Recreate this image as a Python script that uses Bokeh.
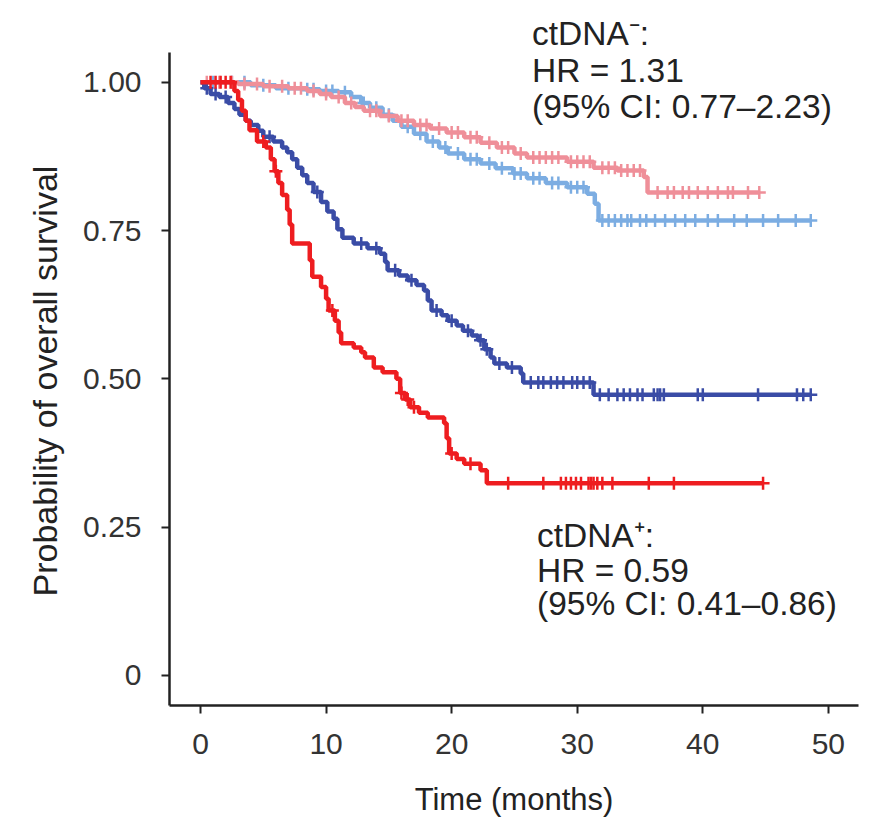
import numpy as np
from bokeh.plotting import figure
from bokeh.models import Range1d, FixedTicker, Label, Title
from bokeh.embed import file_html
from bokeh.resources import INLINE

# ---------------- data ----------------
# ctDNA- group, arm 1 (pink)
pink_times = [3.0, 5.0, 7.0, 8.5, 9.5, 10.4, 11.5, 12.3, 13.0, 14.3, 15.7, 17.0, 18.3,
              19.6, 21.0, 22.3, 23.6, 25.0, 26.0, 29.2, 31.3, 33.2, 35.3, 35.6]
pink_surv = [0.997, 0.993, 0.99, 0.985, 0.98, 0.975, 0.965, 0.958, 0.952, 0.943, 0.935,
             0.928, 0.922, 0.915, 0.907, 0.898, 0.89, 0.88, 0.873, 0.866, 0.856, 0.851,
             0.84, 0.814]
pink_censor = [0.5, 1.5, 2.5, 3.5, 4.5, 5.5, 6.5, 7.5, 8.0, 9.0, 10.0, 11.0, 12.0, 13.5,
               14.0, 15.0, 16.0, 16.5, 17.5, 18.0, 19.0, 20.0, 20.5, 21.5, 22.0, 23.0,
               24.0, 24.5, 25.5, 26.5, 27.0, 27.5, 28.0, 28.5, 29.5, 30.0, 30.5, 31.0,
               32.0, 32.5, 33.0, 33.5, 34.0, 34.5, 35.0, 36.4, 37.2, 37.7, 38.4, 38.9,
               39.6, 40.4, 41.2, 42.0, 42.4, 43.6, 44.5]

# ctDNA- group, arm 2 (light blue)
lblue_times = [4.0, 6.0, 8.0, 9.5, 11.0, 12.0, 12.8, 13.5, 14.5, 15.3, 16.0, 17.0, 18.0,
               19.0, 19.7, 21.0, 22.3, 23.5, 24.9, 26.0, 27.5, 29.2, 30.8, 31.4, 31.7]
lblue_surv = [0.995, 0.99, 0.988, 0.985, 0.983, 0.975, 0.965, 0.957, 0.945, 0.935, 0.925,
              0.913, 0.90, 0.89, 0.88, 0.87, 0.863, 0.855, 0.846, 0.838, 0.83, 0.823,
              0.812, 0.795, 0.767]
lblue_censor = [1.0, 2.5, 3.5, 5.0, 7.0, 8.5, 9.0, 10.0, 10.5, 11.5, 13.0, 14.0, 15.0,
                16.5, 17.5, 18.5, 19.5, 20.5, 21.5, 22.0, 23.0, 24.0, 25.0, 25.5, 26.5,
                27.0, 28.0, 28.5, 29.5, 30.0, 30.5, 32.0, 32.5, 33.0, 33.5, 34.0, 34.3,
                35.0, 35.5, 36.2, 37.0, 37.8, 38.6, 39.4, 40.4, 41.2, 42.5, 43.5, 44.8,
                46.0, 47.4, 48.6]

# ctDNA+ group, arm 1 (dark blue)
dblue_times = [0.3, 0.8, 1.5, 2.2, 2.7, 3.1, 3.6, 4.0, 4.6, 5.0, 5.8, 6.5, 6.9, 7.3, 7.7,
               8.1, 8.5, 9.0, 9.6, 10.1, 10.6, 10.9, 11.3, 12.2, 13.3, 14.3, 14.7, 14.9,
               15.8, 16.5, 17.2, 17.8, 18.1, 18.4, 19.2, 19.7, 20.4, 20.9, 21.6, 22.1,
               22.6, 23.1, 23.4, 24.4, 25.5, 25.7, 31.3]
dblue_surv = [0.99, 0.98, 0.975, 0.965, 0.955, 0.945, 0.935, 0.928, 0.918, 0.908, 0.90,
              0.89, 0.882, 0.87, 0.856, 0.843, 0.83, 0.815, 0.798, 0.782, 0.77, 0.752,
              0.738, 0.728, 0.72, 0.711, 0.697, 0.683, 0.674, 0.666, 0.658, 0.649, 0.632,
              0.615, 0.607, 0.598, 0.59, 0.581, 0.573, 0.565, 0.55, 0.536, 0.526, 0.519,
              0.509, 0.494, 0.473]
dblue_censor = [0.5, 1.2, 2.0, 5.5, 9.3, 12.8, 14.0, 15.5, 16.8, 18.8, 20.0, 21.3, 22.3,
                22.8, 23.8, 24.8, 26.3, 26.9, 27.3, 27.9, 28.4, 28.9, 29.6, 30.0, 30.5,
                31.0, 31.8, 32.5, 33.2, 33.7, 34.2, 34.8, 35.2, 36.1, 36.4, 36.6, 36.9,
                39.6, 40.0, 44.4, 47.5, 48.0, 48.6]

# ctDNA+ group, arm 2 (red)
red_times = [2.7, 3.0, 3.3, 3.6, 3.9, 4.5, 5.2, 5.6, 5.9, 6.2, 6.5, 6.9, 7.1, 7.3, 8.7,
             8.9, 9.6, 10.0, 10.2, 10.7, 11.0, 11.2, 12.2, 12.8, 13.1, 13.8, 14.5, 15.6,
             15.9, 16.3, 16.7, 17.4, 18.1, 19.4, 19.6, 19.8, 20.4, 21.0, 22.3, 22.8]
red_surv = [0.985, 0.97, 0.952, 0.935, 0.919, 0.90, 0.89, 0.87, 0.85, 0.83, 0.81, 0.785,
            0.76, 0.728, 0.70, 0.672, 0.655, 0.635, 0.615, 0.598, 0.578, 0.56, 0.553,
            0.545, 0.536, 0.519, 0.511, 0.50, 0.476, 0.465, 0.452, 0.443, 0.435, 0.425,
            0.40, 0.374, 0.365, 0.357, 0.346, 0.324]
red_censor = [0.8, 1.2, 1.6, 2.0, 2.4, 5.0, 6.0, 10.5, 16.0, 16.5, 17.0, 20.0, 21.5, 24.5,
              27.3, 28.7, 29.1, 29.5, 29.9, 30.3, 30.9, 31.1, 31.3, 31.6, 32.0, 32.8,
              35.7, 37.7, 44.8]

x_ticks = [0, 10, 20, 30, 40, 50]
y_ticks = [0, 0.25, 0.5, 0.75, 1.0]
y_tick_labels = ["0", "0.25", "0.50", "0.75", "1.00"]

top_note = ["ctDNA\u207b:", "HR = 1.31", "(95% CI: 0.77\u20132.23)"]
bottom_note = ["ctDNA\u207a:", "HR = 0.59", "(95% CI: 0.41\u20130.86)"]

groups = [
    (lblue_times, lblue_surv, lblue_censor, "#7CADE2"),
    (pink_times, pink_surv, pink_censor, "#EF8F99"),
    (dblue_times, dblue_surv, dblue_censor, "#3A4CA6"),
    (red_times, red_surv, red_censor, "#EE1D20"),
]

FONT = "Liberation Sans"

p = figure(width=868, height=820, output_backend="svg", toolbar_location=None,
           x_range=Range1d(-2.47, 52.4), y_range=Range1d(-0.0506, 1.1377),
           min_border_left=169, min_border_right=10, min_border_top=0,
           min_border_bottom=115)
p.outline_line_color = None
p.grid.visible = False
p.background_fill_color = "white"
p.border_fill_color = "white"

for times, surv, cens, col in groups:
    end = max(max(cens), times[-1])
    xs = [0.0] + list(times) + [end]
    ys = [1.0] + list(surv) + [surv[-1]]
    p.step(xs, ys, mode="after", line_color=col, line_width=4.5)
    steps = np.array([1.0] + list(surv))
    idx = np.searchsorted(np.array(times), np.array(cens), side="right")
    p.scatter(cens, steps[idx], marker="cross", size=13, line_color=col, line_width=2.5)

for ax in (p.xaxis[0], p.yaxis[0]):
    ax.axis_line_width = 2.5
    ax.axis_line_color = "#222222"
    ax.major_tick_line_width = 2
    ax.major_tick_line_color = "#222222"
    ax.major_tick_in = 0
    ax.major_tick_out = 8
    ax.minor_tick_line_color = None
    ax.major_label_text_font = FONT
    ax.major_label_text_font_size = "30px"
    ax.major_label_text_color = "#333333"
    ax.axis_label_text_font = FONT
    ax.axis_label_text_font_size = "31px"
    ax.axis_label_text_font_style = "normal"
    ax.axis_label_text_color = "#222222"

p.yaxis.bounds = (-0.0506, 1.05)
p.xaxis.ticker = FixedTicker(ticks=x_ticks)
p.yaxis.ticker = FixedTicker(ticks=y_ticks)
p.yaxis.major_label_overrides = {t: s for t, s in zip(y_ticks, y_tick_labels)}
p.xaxis.axis_label = "Time (months)"
p.xaxis.major_label_standoff = 20
p.yaxis.major_label_standoff = 20
p.xaxis.axis_label_standoff = 25

# y-axis title as a left-side title so it can be centred on the axis line
ytitle = Title(text="Probability of overall survival", align="left", offset=109,
               text_font=FONT, text_font_size="34px", text_font_style="normal",
               text_color="#222222", standoff=33)
p.add_layout(ytitle, "left")

# annotations (positions in data units)
for line, yb in zip(top_note, [1.082, 1.0197, 0.959]):
    p.add_layout(Label(x=26.4, y=yb, text=line, text_font=FONT, text_font_size="33.5px",
                       text_color="#222222", text_baseline="alphabetic", text_align="left"))
for line, yb in zip(bottom_note, [0.2355, 0.1765, 0.1208]):
    p.add_layout(Label(x=26.8, y=yb, text=line, text_font=FONT, text_font_size="33.5px",
                       text_color="#222222", text_baseline="alphabetic", text_align="left"))

open("out.html", "w").write(file_html(p, INLINE))
